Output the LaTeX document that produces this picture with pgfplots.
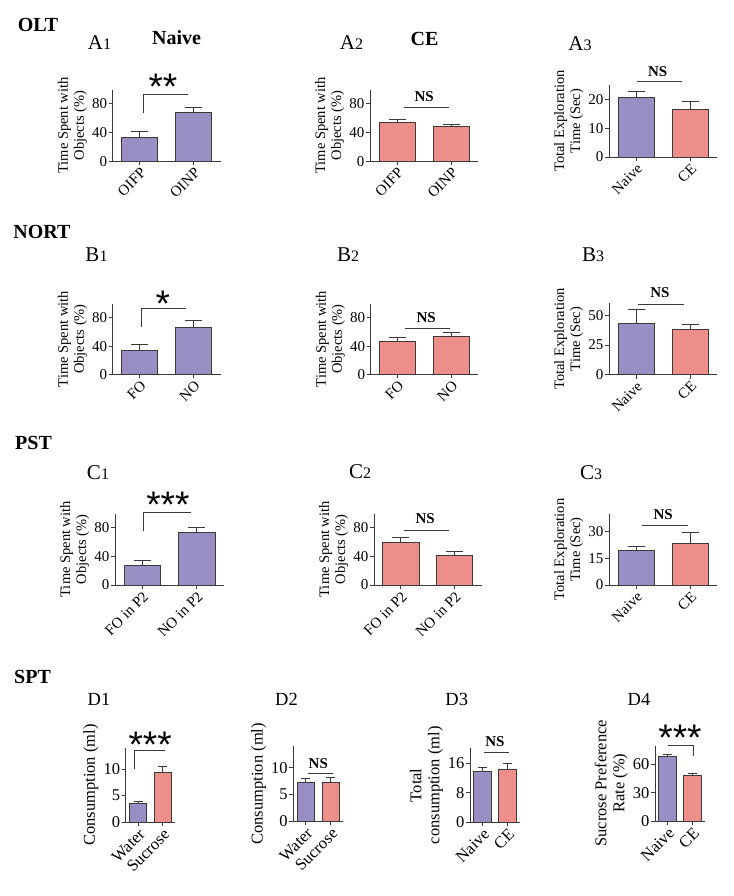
\documentclass[border=0pt]{standalone}
\usepackage{fontspec}
\setmainfont{Liberation Serif}
\newfontfamily\starfont{Liberation Sans}
\usepackage{pgfplots}
\pgfplotsset{compat=1.18}
\definecolor{npurple}{HTML}{9A8FC4}
\definecolor{cpink}{HTML}{EE8E8B}
\definecolor{edgec}{HTML}{3A3A3A}
\pgfplotsset{
  panel/.style={
    scale only axis, anchor=south west,
    axis x line*=bottom, axis y line*=left,
    axis line style={-, line width=0.9pt, edgec},
    xmin=-0.5, xmax=1.5, ymin=0,
    xtick={0,1},
    tick align=outside, major tick length=4pt,
    tick style={line width=0.9pt, edgec},
    /pgf/number format/assume math mode=true,
    tick label style={font=\fontsize{15}{15}\selectfont},
    xticklabel style={rotate=45, anchor=north east, inner sep=1pt},
    yticklabel style={inner sep=1.5pt},
    ylabel style={align=center, font=\fontsize{14.5}{16}\selectfont},
    clip=false,
  },
  dpanel/.style={panel,
    tick label style={font=\fontsize{16.5}{16.5}\selectfont},
    ylabel style={font=\fontsize{16.5}{18}\selectfont}},
  mybar/.style={ybar, bar shift=0pt, bar width=0.67, fill=#1, draw=edgec, line width=0.8pt,
    error bars/.cd, y dir=plus, y explicit,
    error bar style={line width=0.9pt, edgec},
    error mark options={rotate=90, line width=0.9pt, mark size=8.5pt, edgec}},
  mydbar/.style={ybar, bar shift=0pt, bar width=0.69, fill=#1, draw=edgec, line width=0.8pt,
    error bars/.cd, y dir=plus, y explicit,
    error bar style={line width=0.9pt, edgec},
    error mark options={rotate=90, line width=0.9pt, mark size=4.5pt, edgec}},
}
\tikzset{
  sig/.style={line width=0.8pt, edgec},
  ns/.style={font=\bfseries\fontsize{15}{15}\selectfont, inner sep=0pt},
  stars/.style={font=\starfont\fontsize{37}{37}\selectfont, inner sep=0pt, anchor=base, yshift=-22pt},
  hdr/.style={font=\bfseries\fontsize{20}{20}\selectfont, inner sep=0pt},
}
\newcommand{\plab}[2]{{\fontsize{21}{21}\selectfont #1}{\fontsize{16}{16}\selectfont #2}}
\begin{document}
\begin{tikzpicture}
\path[use as bounding box] (0,0) rectangle (733pt,-896pt);
% headers
\node[hdr] at (38pt,-25pt) {OLT};
\node[hdr] at (42pt,-231.7pt) {NORT};
\node[hdr] at (33.5pt,-443pt) {PST};
\node[hdr] at (32.5pt,-676.7pt) {SPT};
\node[hdr] at (176.5pt,-38pt) {Naive};
\node[hdr] at (424.5pt,-39pt) {CE};
\node[inner sep=0pt] at (99.5pt,-43pt) {\plab{A}{1}};
\node[inner sep=0pt] at (351.5pt,-42.7pt) {\plab{A}{2}};
\node[inner sep=0pt] at (580pt,-43.3pt) {\plab{A}{3}};
\node[inner sep=0pt] at (96.5pt,-255pt) {\plab{B}{1}};
\node[inner sep=0pt] at (348pt,-255pt) {\plab{B}{2}};
\node[inner sep=0pt] at (593pt,-255pt) {\plab{B}{3}};
\node[inner sep=0pt] at (98pt,-473pt) {\plab{C}{1}};
\node[inner sep=0pt] at (360pt,-471.7pt) {\plab{C}{2}};
\node[inner sep=0pt] at (591pt,-472.7pt) {\plab{C}{3}};
\node[inner sep=0pt, font=\fontsize{18.5}{18.5}\selectfont] at (99pt,-699.3pt) {D1};
\node[inner sep=0pt, font=\fontsize{18.5}{18.5}\selectfont] at (286.5pt,-699.3pt) {D2};
\node[inner sep=0pt, font=\fontsize{18.5}{18.5}\selectfont] at (456.7pt,-699.3pt) {D3};
\node[inner sep=0pt, font=\fontsize{18.5}{18.5}\selectfont] at (639pt,-699.3pt) {D4};

% ---------- A1
\begin{axis}[panel, at={(112.7pt,-161.3pt)}, width=108pt, height=71.7pt, ymax=100,
  ytick={0,40,80}, xticklabels={OIFP,OINP}, ylabel={Time Spent with\\Objects (\%)}]
\addplot[mybar=npurple] coordinates {(0,34) +- (0,7.3)};
\addplot[mybar=npurple] coordinates {(1,67.8) +- (0,7)};
\draw[sig] (axis cs:0.06,67.8) -- (axis cs:0.06,93.4) -- (axis cs:0.9,93.4);
\node[stars] at (axis cs:0.43,116.6) {**};
\end{axis}
% ---------- A2
\begin{axis}[panel, at={(370pt,-161.3pt)}, width=108.3pt, height=71.7pt, ymax=100,
  ytick={0,40,80}, xticklabels={OIFP,OINP}, ylabel={Time Spent with\\Objects (\%)}]
\addplot[mybar=cpink] coordinates {(0,53.8) +- (0,5.2)};
\addplot[mybar=cpink] coordinates {(1,48.3) +- (0,3.7)};
\draw[sig] (axis cs:0.13,75.3) -- (axis cs:0.96,75.3);
\node[ns] at (axis cs:0.5,90.1) {NS};
\end{axis}
% ---------- A3
\begin{axis}[panel, at={(609pt,-157pt)}, width=108.3pt, height=72.1pt, ymax=25,
  ytick={0,10,20}, xticklabels={Naive,CE}, ylabel={Total Exploration\\Time (Sec)}]
\addplot[mybar=npurple] coordinates {(0,20.7) +- (0,2.2)};
\addplot[mybar=cpink] coordinates {(1,16.5) +- (0,2.8)};
\draw[sig] (axis cs:0.01,26.1) -- (axis cs:0.85,26.1);
\node[ns] at (axis cs:0.4,29.6) {NS};
\end{axis}
% ---------- B1
\begin{axis}[panel, at={(112.7pt,-374.3pt)}, width=108pt, height=70.5pt, ymax=100,
  ytick={0,40,80}, xticklabels={FO,NO}, ylabel={Time Spent with\\Objects (\%)}]
\addplot[mybar=npurple] coordinates {(0,33.5) +- (0,9)};
\addplot[mybar=npurple] coordinates {(1,67) +- (0,9)};
\draw[sig] (axis cs:0.04,67.5) -- (axis cs:0.04,93.6) -- (axis cs:0.86,93.6);
\node[stars] at (axis cs:0.43,113.5) {*};
\end{axis}
% ---------- B2
\begin{axis}[panel, at={(370.7pt,-374.3pt)}, width=107.6pt, height=70.5pt, ymax=100,
  ytick={0,40,80}, xticklabels={FO,NO}, ylabel={Time Spent with\\Objects (\%)}]
\addplot[mybar=cpink] coordinates {(0,47.2) +- (0,5.7)};
\addplot[mybar=cpink] coordinates {(1,53.9) +- (0,5.7)};
\draw[sig] (axis cs:0.14,65.2) -- (axis cs:0.97,65.2);
\node[ns] at (axis cs:0.53,80.9) {NS};
\end{axis}
% ---------- B3
\begin{axis}[panel, at={(609pt,-374.7pt)}, width=108.3pt, height=71.4pt, ymax=60,
  ytick={0,25,50}, xticklabels={Naive,CE}, ylabel={Total Exploration\\Time (Sec)}]
\addplot[mybar=npurple] coordinates {(0,43.2) +- (0,11.8)};
\addplot[mybar=cpink] coordinates {(1,38.1) +- (0,4.2)};
\draw[sig] (axis cs:0.04,59.4) -- (axis cs:0.88,59.4);
\node[ns] at (axis cs:0.44,68.9) {NS};
\end{axis}
% ---------- C1
\begin{axis}[panel, at={(115pt,-585pt)}, width=109pt, height=71.4pt, ymax=100,
  ytick={0,40,80}, xticklabels={FO in P2,NO in P2}, ylabel={Time Spent with\\Objects (\%)}]
\addplot[mybar=npurple] coordinates {(0,27.6) +- (0,7)};
\addplot[mybar=npurple] coordinates {(1,73.2) +- (0,7)};
\draw[sig] (axis cs:0.03,75.2) -- (axis cs:0.03,101.3) -- (axis cs:0.89,101.3);
\node[stars] at (axis cs:0.47,126) {***};
\end{axis}
% ---------- C2
\begin{axis}[panel, at={(374pt,-585pt)}, width=107.7pt, height=71.4pt, ymax=100,
  ytick={0,40,80}, xticklabels={FO in P2,NO in P2}, ylabel={Time Spent with\\Objects (\%)}]
\addplot[mybar=cpink] coordinates {(0,59.8) +- (0,6.4)};
\addplot[mybar=cpink] coordinates {(1,41) +- (0,5.6)};
\draw[sig] (axis cs:0.06,76) -- (axis cs:0.9,76);
\node[ns] at (axis cs:0.45,92.4) {NS};
\end{axis}
% ---------- C3
\begin{axis}[panel, at={(609pt,-585pt)}, width=108.3pt, height=71.2pt, ymax=40,
  ytick={0,15,30}, xticklabels={Naive,CE}, ylabel={Total Exploration\\Time (Sec)}]
\addplot[mybar=npurple] coordinates {(0,19.5) +- (0,2)};
\addplot[mybar=cpink] coordinates {(1,23.4) +- (0,6)};
\draw[sig] (axis cs:0.11,33.3) -- (axis cs:0.95,33.3);
\node[ns] at (axis cs:0.5,39.3) {NS};
\end{axis}
% ---------- D1
\begin{axis}[dpanel, at={(125.7pt,-822.3pt)}, width=49.3pt, height=74.6pt, ymax=14,
  ytick={0,5,10}, xticklabels={Water,Sucrose}, ylabel={Consumption (ml)}]
\addplot[mydbar=npurple] coordinates {(0,3.56) +- (0,0.38)};
\addplot[mydbar=cpink] coordinates {(1,9.3) +- (0,1.26)};
\draw[sig] (axis cs:-0.15,9.94) -- (axis cs:-0.15,13.56) -- (axis cs:1.1,13.56);
\node[stars] at (axis cs:0.49,16.2) {***};
\end{axis}
% ---------- D2
\begin{axis}[dpanel, at={(293.3pt,-821.3pt)}, width=50pt, height=75pt, ymax=14,
  ytick={0,5,10}, xticklabels={Water,Sucrose}, ylabel={Consumption (ml)}]
\addplot[mydbar=npurple] coordinates {(0,7.3) +- (0,0.7)};
\addplot[mydbar=cpink] coordinates {(1,7.3) +- (0,0.9)};
\draw[sig] (axis cs:0.1,8.96) -- (axis cs:1.1,8.96);
\node[ns] at (axis cs:0.5,10.8) {NS};
\end{axis}
% ---------- D3
\begin{axis}[dpanel, at={(470pt,-822.3pt)}, width=50pt, height=74pt, ymax=20,
  ytick={0,8,16}, xticklabels={Naive,CE}, ylabel={Total\\consumption (ml)}]
\addplot[mydbar=npurple] coordinates {(0,13.7) +- (0,1)};
\addplot[mydbar=cpink] coordinates {(1,14.4) +- (0,1.4)};
\draw[sig] (axis cs:0.06,18.8) -- (axis cs:1.07,18.8);
\node[ns] at (axis cs:0.5,21.8) {NS};
\end{axis}
% ---------- D4
\begin{axis}[dpanel, at={(655pt,-821pt)}, width=50pt, height=75.5pt, ymax=80,
  ytick={0,30,60}, xticklabels={Naive,CE}, ylabel={Sucrose Preference\\Rate (\%)}]
\addplot[mydbar=npurple] coordinates {(0,68.1) +- (0,2.9)};
\addplot[mydbar=cpink] coordinates {(1,48.4) +- (0,2.1)};
\draw[sig] (axis cs:0.03,80.5) -- (axis cs:1.03,80.5) -- (axis cs:1.03,69.2);
\node[stars] at (axis cs:0.5,98.2) {***};
\end{axis}
\end{tikzpicture}
\end{document}
